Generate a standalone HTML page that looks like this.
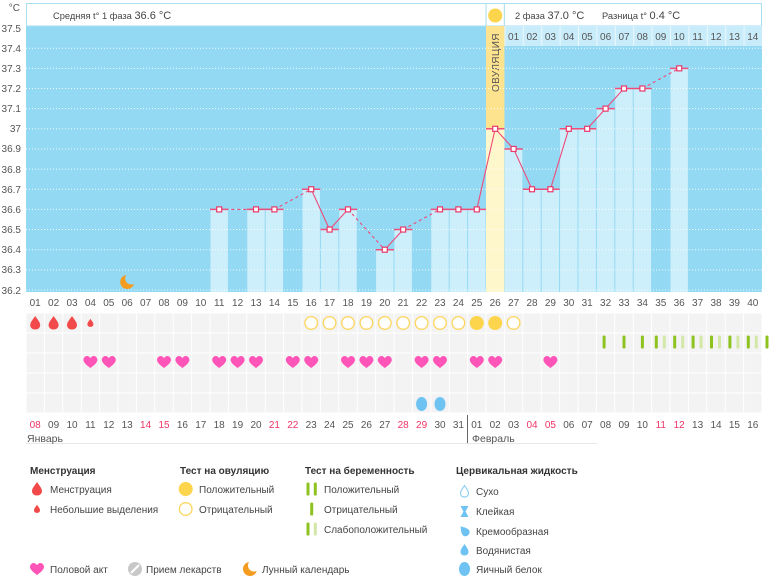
<!DOCTYPE html>
<html><head><meta charset="utf-8"><style>
html,body{margin:0;padding:0;background:#fff;}
svg{display:block;}
text{font-family:"Liberation Sans","DejaVu Sans",sans-serif;}
</style></head><body>
<svg width="770" height="576" viewBox="0 0 770 576" xmlns="http://www.w3.org/2000/svg">
<defs>
<pattern id="cells" x="26" y="313" width="18.4" height="20" patternUnits="userSpaceOnUse">
<rect width="18.4" height="20" fill="#fff"/><rect x="0.5" y="0.5" width="17.4" height="19" fill="#f3f3f3"/>
</pattern>
<pattern id="hdr" x="504.4" y="26" width="18.4" height="20" patternUnits="userSpaceOnUse">
<rect width="18.4" height="20" fill="#c9ecfa"/><rect x="0" y="0" width="1" height="20" fill="#eaf8fd"/>
</pattern>
<path id="heart" d="M0,5.5 C-2,4 -7,0.5 -7,-2.5 C-7,-5 -5,-6.5 -3.5,-6.5 C-2,-6.5 -0.8,-5.6 0,-4.3 C0.8,-5.6 2,-6.5 3.5,-6.5 C5,-6.5 7,-5 7,-2.5 C7,0.5 2,4 0,5.5 Z" fill="#ff55b8"/>
<path id="drop" d="M0,-7 C1.5,-4.5 5,-1 5,2 C5,4.8 2.8,6.5 0,6.5 C-2.8,6.5 -5,4.8 -5,2 C-5,-1 -1.5,-4.5 0,-7 Z" fill="#f24a4a"/>
<path id="bdrop" d="M0,-6 C1.2,-4 4,-1 4,1.8 C4,4.2 2.2,5.5 0,5.5 C-2.2,5.5 -4,4.2 -4,1.8 C-4,-1 -1.2,-4 0,-6 Z"/>
<circle id="ocOpen" r="6.3" fill="#fff" stroke="#fcd766" stroke-width="1.4"/>
<circle id="ocFull" r="7" fill="#fcd54c"/>
<mask id="moonmask" maskUnits="userSpaceOnUse" x="-10" y="-10" width="20" height="20">
<rect x="-10" y="-10" width="20" height="20" fill="#fff"/><circle cx="4" cy="-3.5" r="6" fill="#000"/>
</mask>
<g id="moon"><circle r="7" fill="#f39c1f" mask="url(#moonmask)"/></g>
</defs>

<!-- plot background -->
<rect x="26" y="26" width="736" height="266" fill="#93d9f3"/>

<!-- header boxes -->
<rect x="26.5" y="3.5" width="459.5" height="22.5" fill="#fff" stroke="#a9def3"/>
<rect x="486" y="3.5" width="18.4" height="22.5" fill="#fff" stroke="#a9def3"/>
<rect x="504.4" y="3.5" width="257.1" height="22.5" fill="#fff" stroke="#a9def3"/>
<circle cx="495.2" cy="15.5" r="7" fill="#fcd54c"/>
<text x="53" y="19" font-size="9.3" fill="#444">Средняя t° 1 фаза <tspan font-size="11">36.6 °C</tspan></text>
<text x="515" y="19" font-size="9.3" fill="#444">2 фаза <tspan font-size="11">37.0 °C</tspan></text>
<text x="602" y="19" font-size="9.3" fill="#444">Разница t° <tspan font-size="11">0.4 °C</tspan></text>

<!-- phase-2 header number row -->
<rect x="504.4" y="26" width="257.6" height="20" fill="url(#hdr)"/>
<g font-size="10" fill="#555" text-anchor="middle">
<text x="513.6" y="40">01</text><text x="532" y="40">02</text><text x="550.4" y="40">03</text><text x="568.8" y="40">04</text><text x="587.2" y="40">05</text><text x="605.6" y="40">06</text><text x="624" y="40">07</text><text x="642.4" y="40">08</text><text x="660.8" y="40">09</text><text x="679.2" y="40">10</text><text x="697.6" y="40">11</text><text x="716" y="40">12</text><text x="734.4" y="40">13</text><text x="752.8" y="40">14</text>
</g>

<!-- ovulation column -->
<rect x="486" y="26" width="18.4" height="102.8" fill="#fde38e"/>
<rect x="486" y="128.8" width="18.4" height="163.2" fill="#fef7cb"/>
<text x="0" y="0" font-size="10" fill="#555" letter-spacing="0.4" transform="translate(499,92) rotate(-90)">ОВУЛЯЦИЯ</text>

<!-- bars -->
<g fill="#cdeefb">
<rect x="210.5" y="209.4" width="17.4" height="82.6"/>
<rect x="247.3" y="209.4" width="17.4" height="82.6"/>
<rect x="265.7" y="209.4" width="17.4" height="82.6"/>
<rect x="302.5" y="189.25" width="17.4" height="102.75"/>
<rect x="320.9" y="229.55" width="17.4" height="62.45"/>
<rect x="339.3" y="209.4" width="17.4" height="82.6"/>
<rect x="376.1" y="249.7" width="17.4" height="42.3"/>
<rect x="394.5" y="229.55" width="17.4" height="62.45"/>
<rect x="431.3" y="209.4" width="17.4" height="82.6"/>
<rect x="449.7" y="209.4" width="17.4" height="82.6"/>
<rect x="468.1" y="209.4" width="17.4" height="82.6"/>
<rect x="504.9" y="148.95" width="17.4" height="143.05"/>
<rect x="523.3" y="189.25" width="17.4" height="102.75"/>
<rect x="541.7" y="189.25" width="17.4" height="102.75"/>
<rect x="560.1" y="128.8" width="17.4" height="163.2"/>
<rect x="578.5" y="128.8" width="17.4" height="163.2"/>
<rect x="596.9" y="108.65" width="17.4" height="183.35"/>
<rect x="615.3" y="88.5" width="17.4" height="203.5"/>
<rect x="633.7" y="88.5" width="17.4" height="203.5"/>
<rect x="670.5" y="68.35" width="17.4" height="223.65"/>
</g>

<!-- gridlines -->
<g stroke="#ffffff" stroke-width="1" stroke-dasharray="1,2" opacity="0.85">
<line x1="26" y1="290" x2="762" y2="290"/>
<line x1="26" y1="269.85" x2="762" y2="269.85"/>
<line x1="26" y1="249.7" x2="762" y2="249.7"/>
<line x1="26" y1="229.55" x2="762" y2="229.55"/>
<line x1="26" y1="209.4" x2="762" y2="209.4"/>
<line x1="26" y1="189.25" x2="762" y2="189.25"/>
<line x1="26" y1="169.1" x2="762" y2="169.1"/>
<line x1="26" y1="148.95" x2="762" y2="148.95"/>
<line x1="26" y1="128.8" x2="762" y2="128.8"/>
<line x1="26" y1="108.65" x2="762" y2="108.65"/>
<line x1="26" y1="88.5" x2="762" y2="88.5"/>
<line x1="26" y1="68.35" x2="762" y2="68.35"/>
<line x1="26" y1="48.2" x2="762" y2="48.2"/>
</g>

<!-- y labels -->
<g font-size="10" fill="#555" text-anchor="end">
<text x="20" y="11">°C</text>
<text x="21" y="32">37.5</text>
<text x="21" y="52">37.4</text>
<text x="21" y="72">37.3</text>
<text x="21" y="92">37.2</text>
<text x="21" y="112">37.1</text>
<text x="21" y="132">37</text>
<text x="21" y="152">36.9</text>
<text x="21" y="173">36.8</text>
<text x="21" y="193">36.7</text>
<text x="21" y="213">36.6</text>
<text x="21" y="233">36.5</text>
<text x="21" y="253">36.4</text>
<text x="21" y="273">36.3</text>
<text x="21" y="294">36.2</text>
</g>

<!-- top red lines per day -->
<g stroke="#f0507a" stroke-width="1.5">
<line x1="210" y1="209.4" x2="228.4" y2="209.4"/>
<line x1="246.8" y1="209.4" x2="265.2" y2="209.4"/>
<line x1="265.2" y1="209.4" x2="283.6" y2="209.4"/>
<line x1="302" y1="189.25" x2="320.4" y2="189.25"/>
<line x1="320.4" y1="229.55" x2="338.8" y2="229.55"/>
<line x1="338.8" y1="209.4" x2="357.2" y2="209.4"/>
<line x1="375.6" y1="249.7" x2="394" y2="249.7"/>
<line x1="394" y1="229.55" x2="412.4" y2="229.55"/>
<line x1="430.8" y1="209.4" x2="449.2" y2="209.4"/>
<line x1="449.2" y1="209.4" x2="467.6" y2="209.4"/>
<line x1="467.6" y1="209.4" x2="486" y2="209.4"/>
<line x1="486" y1="128.8" x2="504.4" y2="128.8"/>
<line x1="504.4" y1="148.95" x2="522.8" y2="148.95"/>
<line x1="522.8" y1="189.25" x2="541.2" y2="189.25"/>
<line x1="541.2" y1="189.25" x2="559.6" y2="189.25"/>
<line x1="559.6" y1="128.8" x2="578" y2="128.8"/>
<line x1="578" y1="128.8" x2="596.4" y2="128.8"/>
<line x1="596.4" y1="108.65" x2="614.8" y2="108.65"/>
<line x1="614.8" y1="88.5" x2="633.2" y2="88.5"/>
<line x1="633.2" y1="88.5" x2="651.6" y2="88.5"/>
<line x1="670" y1="68.35" x2="688.4" y2="68.35"/>
</g>

<!-- connecting lines -->
<g fill="none" stroke="#f04a78" stroke-width="1.1">
<polyline points="256,209.4 274.4,209.4"/>
<polyline points="311.2,189.25 329.6,229.55 348,209.4"/>
<polyline points="384.8,249.7 403.2,229.55"/>
<polyline points="440,209.4 458.4,209.4 476.8,209.4 495.2,128.8 513.6,148.95 532,189.25 550.4,189.25 568.8,128.8 587.2,128.8 605.6,108.65 624,88.5 642.4,88.5"/>
</g>
<g fill="none" stroke="#f04a78" stroke-width="1.1" stroke-dasharray="3,3">
<polyline points="219.2,209.4 256,209.4"/>
<polyline points="274.4,209.4 311.2,189.25"/>
<polyline points="348,209.4 384.8,249.7"/>
<polyline points="403.2,229.55 440,209.4"/>
<polyline points="642.4,88.5 679.2,68.35"/>
</g>

<!-- markers -->
<g fill="#fff" stroke="#e8386a" stroke-width="1.2">
<rect x="216.7" y="206.9" width="5" height="5"/>
<rect x="253.5" y="206.9" width="5" height="5"/>
<rect x="271.9" y="206.9" width="5" height="5"/>
<rect x="308.7" y="186.75" width="5" height="5"/>
<rect x="327.1" y="227.05" width="5" height="5"/>
<rect x="345.5" y="206.9" width="5" height="5"/>
<rect x="382.3" y="247.2" width="5" height="5"/>
<rect x="400.7" y="227.05" width="5" height="5"/>
<rect x="437.5" y="206.9" width="5" height="5"/>
<rect x="455.9" y="206.9" width="5" height="5"/>
<rect x="474.3" y="206.9" width="5" height="5"/>
<rect x="492.7" y="126.3" width="5" height="5"/>
<rect x="511.1" y="146.45" width="5" height="5"/>
<rect x="529.5" y="186.75" width="5" height="5"/>
<rect x="547.9" y="186.75" width="5" height="5"/>
<rect x="566.3" y="126.3" width="5" height="5"/>
<rect x="584.7" y="126.3" width="5" height="5"/>
<rect x="603.1" y="106.15" width="5" height="5"/>
<rect x="621.5" y="86" width="5" height="5"/>
<rect x="639.9" y="86" width="5" height="5"/>
<rect x="676.7" y="65.85" width="5" height="5"/>
</g>

<!-- moon -->
<use href="#moon" x="127.2" y="282"/>

<!-- x labels (cycle day) -->
<g font-size="10" fill="#555" text-anchor="middle">
<text x="35.2" y="306">01</text><text x="53.6" y="306">02</text><text x="72" y="306">03</text><text x="90.4" y="306">04</text><text x="108.8" y="306">05</text><text x="127.2" y="306">06</text><text x="145.6" y="306">07</text><text x="164" y="306">08</text><text x="182.4" y="306">09</text><text x="200.8" y="306">10</text>
<text x="219.2" y="306">11</text><text x="237.6" y="306">12</text><text x="256" y="306">13</text><text x="274.4" y="306">14</text><text x="292.8" y="306">15</text><text x="311.2" y="306">16</text><text x="329.6" y="306">17</text><text x="348" y="306">18</text><text x="366.4" y="306">19</text><text x="384.8" y="306">20</text>
<text x="403.2" y="306">21</text><text x="421.6" y="306">22</text><text x="440" y="306">23</text><text x="458.4" y="306">24</text><text x="476.8" y="306">25</text><text x="495.2" y="306">26</text><text x="513.6" y="306">27</text><text x="532" y="306">28</text><text x="550.4" y="306">29</text><text x="568.8" y="306">30</text>
<text x="587.2" y="306">31</text><text x="605.6" y="306">32</text><text x="624" y="306">33</text><text x="642.4" y="306">34</text><text x="660.8" y="306">35</text><text x="679.2" y="306">36</text><text x="697.6" y="306">37</text><text x="716" y="306">38</text><text x="734.4" y="306">39</text><text x="752.8" y="306">40</text>
</g>

<!-- cells grid -->
<rect x="26" y="313" width="736" height="100" fill="url(#cells)"/>

<!-- row1: menstruation drops and ovulation tests -->
<use href="#drop" x="35.2" y="323"/>
<use href="#drop" x="53.6" y="323"/>
<use href="#drop" x="72" y="323"/>
<use href="#drop" transform="translate(90.4,323) scale(0.6)"/>
<use href="#ocOpen" x="311.2" y="323"/><use href="#ocOpen" x="329.6" y="323"/><use href="#ocOpen" x="348" y="323"/><use href="#ocOpen" x="366.4" y="323"/><use href="#ocOpen" x="384.8" y="323"/><use href="#ocOpen" x="403.2" y="323"/><use href="#ocOpen" x="421.6" y="323"/><use href="#ocOpen" x="440" y="323"/><use href="#ocOpen" x="458.4" y="323"/>
<use href="#ocFull" x="476.8" y="323"/><use href="#ocFull" x="495.2" y="323"/>
<use href="#ocOpen" x="513.6" y="323"/>

<!-- row2: pregnancy tests -->
<g fill="#8dc21f">
<rect x="602.6" y="335.5" width="3" height="13" rx="1.3"/>
<rect x="622.5" y="335.5" width="3" height="13" rx="1.3"/>
<rect x="640.9" y="335.5" width="3" height="13" rx="1.3"/>
<rect x="654.8" y="335.5" width="3" height="13" rx="1.3"/>
<rect x="673.2" y="335.5" width="3" height="13" rx="1.3"/>
<rect x="691.6" y="335.5" width="3" height="13" rx="1.3"/>
<rect x="710" y="335.5" width="3" height="13" rx="1.3"/>
<rect x="728.4" y="335.5" width="3" height="13" rx="1.3"/>
<rect x="746.8" y="335.5" width="3" height="13" rx="1.3"/>
<rect x="765.5" y="335.5" width="3" height="13" rx="1.3"/>
</g>
<g fill="#d3e8a6">
<rect x="662.8" y="335.5" width="3" height="13" rx="1.3"/>
<rect x="681.2" y="335.5" width="3" height="13" rx="1.3"/>
<rect x="699.6" y="335.5" width="3" height="13" rx="1.3"/>
<rect x="718" y="335.5" width="3" height="13" rx="1.3"/>
<rect x="736.4" y="335.5" width="3" height="13" rx="1.3"/>
<rect x="754.8" y="335.5" width="3" height="13" rx="1.3"/>
</g>

<!-- row3: hearts -->
<use href="#heart" x="90.4" y="362.5"/><use href="#heart" x="108.8" y="362.5"/><use href="#heart" x="164" y="362.5"/><use href="#heart" x="182.4" y="362.5"/><use href="#heart" x="219.2" y="362.5"/><use href="#heart" x="237.6" y="362.5"/><use href="#heart" x="256" y="362.5"/><use href="#heart" x="292.8" y="362.5"/><use href="#heart" x="311.2" y="362.5"/><use href="#heart" x="348" y="362.5"/><use href="#heart" x="366.4" y="362.5"/><use href="#heart" x="384.8" y="362.5"/><use href="#heart" x="421.6" y="362.5"/><use href="#heart" x="440" y="362.5"/><use href="#heart" x="476.8" y="362.5"/><use href="#heart" x="495.2" y="362.5"/><use href="#heart" x="550.4" y="362.5"/>

<!-- row5: cervical fluid -->
<ellipse cx="421.6" cy="404" rx="5.5" ry="7" fill="#6ec3f3"/>
<ellipse cx="440" cy="404" rx="5.5" ry="7" fill="#6ec3f3"/>

<!-- calendar dates -->
<g font-size="10" fill="#555" text-anchor="middle">
<text x="35.2" y="428" fill="#ee3366">08</text><text x="53.6" y="428">09</text><text x="72" y="428">10</text><text x="90.4" y="428">11</text><text x="108.8" y="428">12</text><text x="127.2" y="428">13</text><text x="145.6" y="428" fill="#ee3366">14</text><text x="164" y="428" fill="#ee3366">15</text><text x="182.4" y="428">16</text><text x="200.8" y="428">17</text>
<text x="219.2" y="428">18</text><text x="237.6" y="428">19</text><text x="256" y="428">20</text><text x="274.4" y="428" fill="#ee3366">21</text><text x="292.8" y="428" fill="#ee3366">22</text><text x="311.2" y="428">23</text><text x="329.6" y="428">24</text><text x="348" y="428">25</text><text x="366.4" y="428">26</text><text x="384.8" y="428">27</text>
<text x="403.2" y="428" fill="#ee3366">28</text><text x="421.6" y="428" fill="#ee3366">29</text><text x="440" y="428">30</text><text x="458.4" y="428">31</text><text x="476.8" y="428">01</text><text x="495.2" y="428">02</text><text x="513.6" y="428">03</text><text x="532" y="428" fill="#ee3366">04</text><text x="550.4" y="428" fill="#ee3366">05</text><text x="568.8" y="428">06</text>
<text x="587.2" y="428">07</text><text x="605.6" y="428">08</text><text x="624" y="428">09</text><text x="642.4" y="428">10</text><text x="660.8" y="428" fill="#ee3366">11</text><text x="679.2" y="428" fill="#ee3366">12</text><text x="697.6" y="428">13</text><text x="716" y="428">14</text><text x="734.4" y="428">15</text><text x="752.8" y="428">16</text>
</g>
<line x1="467.5" y1="415" x2="467.5" y2="444" stroke="#666" stroke-width="1"/>
<line x1="26" y1="443.5" x2="597" y2="443.5" stroke="#e8e8e8" stroke-width="1"/>
<text x="27" y="442" font-size="10.5" fill="#555">Январь</text>
<text x="472" y="442" font-size="10.5" fill="#555">Февраль</text>

<!-- legend -->
<g font-size="10" font-weight="bold" fill="#333">
<text x="30" y="474">Менструация</text>
<text x="180" y="474">Тест на овуляцию</text>
<text x="305" y="474">Тест на беременность</text>
<text x="456" y="474">Цервикальная жидкость</text>
</g>
<g font-size="10" fill="#444">
<text x="50" y="493">Менструация</text>
<text x="50" y="513">Небольшие выделения</text>
<text x="199" y="493">Положительный</text>
<text x="199" y="513">Отрицательный</text>
<text x="324" y="493">Положительный</text>
<text x="324" y="513">Отрицательный</text>
<text x="324" y="533">Слабоположительный</text>
<text x="476" y="495">Сухо</text>
<text x="476" y="515">Клейкая</text>
<text x="476" y="535">Кремообразная</text>
<text x="476" y="554">Водянистая</text>
<text x="476" y="573">Яичный белок</text>
<text x="50" y="573">Половой акт</text>
<text x="146" y="573">Прием лекарств</text>
<text x="262" y="573">Лунный календарь</text>
</g>
<use href="#drop" x="37" y="489"/>
<use href="#drop" transform="translate(37,509) scale(0.6)"/>
<use href="#ocFull" x="185.7" y="489"/>
<use href="#ocOpen" x="185.7" y="509"/>
<g fill="#8dc21f">
<rect x="306.5" y="482.5" width="3" height="13" rx="1.3"/>
<rect x="313.8" y="482.5" width="3" height="13" rx="1.3"/>
<rect x="310.2" y="502.5" width="3" height="13" rx="1.3"/>
<rect x="306.5" y="522.5" width="3" height="13" rx="1.3"/>
</g>
<rect x="313.8" y="522.5" width="3" height="13" rx="1.3" fill="#d3e8a6"/>
<!-- cervical legend icons -->
<use href="#bdrop" x="464.5" y="491.5" fill="#fff" stroke="#8fd0f2" stroke-width="1.2"/>
<path d="M460.5,506 H468.5 L465.5,511.5 L468.5,517 H460.5 L463.5,511.5 Z" fill="#6ec3f3"/>
<use href="#bdrop" transform="translate(464.5,531) rotate(-40)" fill="#6ec3f3"/>
<use href="#bdrop" x="464.5" y="550" fill="#6ec3f3"/>
<ellipse cx="464.5" cy="569" rx="5.5" ry="7" fill="#6ec3f3"/>
<!-- bottom legend -->
<use href="#heart" x="37" y="569.5"/>
<circle cx="135" cy="569" r="7" fill="#c8c8c8"/>
<line x1="131" y1="573" x2="139" y2="565" stroke="#fff" stroke-width="2"/>
<use href="#moon" x="250" y="569"/>
</svg>
</body></html>
